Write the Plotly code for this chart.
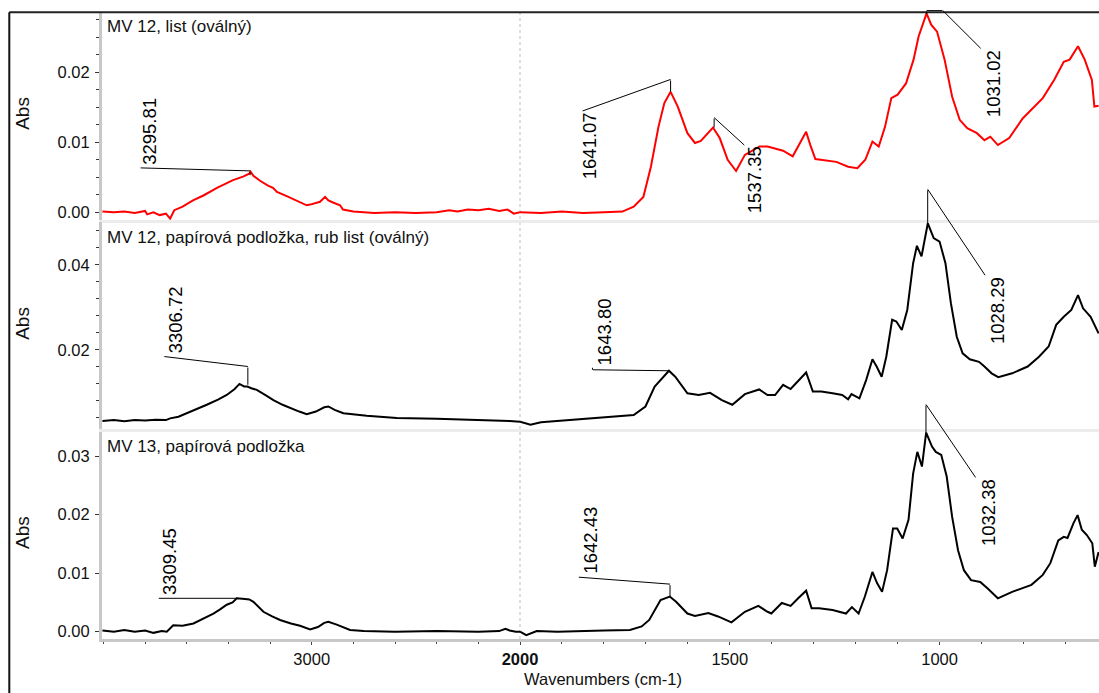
import numpy as np
import plotly.graph_objects as go

# ---------------- data ----------------
BREAK = 2000  # axis scale changes at 2000 cm-1

wn_1 = [4005, 3950, 3900, 3850, 3800, 3790, 3760, 3730, 3700, 3680, 3660, 3620, 3570, 3520, 3455, 3410,
        3378, 3330, 3300, 3294, 3280, 3248, 3210, 3186, 3167, 3120, 3090, 3050, 3024, 3008, 2960, 2936,
        2920, 2898, 2864, 2850, 2800, 2700, 2600, 2500, 2400, 2340, 2300, 2250, 2200, 2150, 2100, 2060,
        2030, 2000, 1950, 1900, 1850, 1800, 1756, 1729, 1706, 1688, 1670, 1656, 1641, 1624, 1601, 1583,
        1569, 1540, 1524, 1505, 1485, 1464, 1429, 1410, 1373, 1350, 1337, 1318, 1308, 1296, 1246, 1218,
        1196, 1177, 1160, 1145, 1130, 1115, 1100, 1080, 1062, 1050, 1031, 1020, 1006, 988, 970, 952,
        934, 911, 893, 879, 861, 834, 802, 754, 727, 704, 690, 670, 654, 637, 631, 621]
abs_1 = [0.0001, 0.0000, 0.0001, -0.0001, 0.0002, -0.0003, 0.0000, -0.0004, -0.0002, -0.0009, 0.0003,
         0.0008, 0.0017, 0.0024, 0.0035, 0.0042, 0.0046, 0.0051, 0.0055, 0.0058, 0.0052, 0.0045, 0.0038,
         0.0035, 0.0029, 0.0023, 0.0019, 0.0014, 0.0010, 0.0011, 0.0015, 0.0022, 0.0017, 0.0014, 0.0010,
         0.0004, 0.0001, -0.0001, 0.0000, -0.0001, 0.0000, 0.0003, 0.0001, 0.0004, 0.0003, 0.0005, 0.0002,
         0.0004, -0.0002, 0.0000, -0.0001, 0.0001, -0.0001, 0.0000, 0.0001, 0.0008, 0.0022, 0.0065, 0.0122,
         0.0156, 0.0172, 0.0151, 0.0113, 0.0099, 0.0102, 0.0121, 0.0106, 0.0075, 0.0059, 0.0082, 0.0094,
         0.0094, 0.0088, 0.0080, 0.0094, 0.0115, 0.0096, 0.0076, 0.0072, 0.0065, 0.0063, 0.0075, 0.0101,
         0.0094, 0.0122, 0.0163, 0.0168, 0.0184, 0.0218, 0.0251, 0.0284, 0.0268, 0.0258, 0.0218, 0.0165,
         0.0132, 0.0120, 0.0113, 0.0103, 0.0108, 0.0096, 0.0106, 0.0134, 0.0163, 0.0189, 0.0215, 0.0218,
         0.0237, 0.0218, 0.0189, 0.0151, 0.0152]

wn_2 = [4005, 3950, 3900, 3850, 3800, 3750, 3700, 3680, 3640, 3600, 3550, 3504, 3450, 3408, 3370, 3347,
        3325, 3309, 3290, 3264, 3220, 3184, 3140, 3104, 3060, 3024, 2980, 2940, 2920, 2890, 2848, 2736,
        2592, 2400, 2200, 2050, 2000, 1975, 1950, 1865, 1729, 1701, 1679, 1645, 1630, 1601, 1574, 1547,
        1519, 1494, 1464, 1430, 1410, 1392, 1373, 1355, 1337, 1318, 1302, 1282, 1255, 1232, 1218, 1210,
        1191, 1175, 1160, 1150, 1138, 1127, 1113, 1103, 1090, 1077, 1063, 1054, 1043, 1028, 1014, 1000,
        986, 973, 959, 945, 928, 906, 893, 876, 860, 827, 790, 763, 740, 722, 704, 686, 670, 658, 640, 621]
abs_2 = [0.0033, 0.0035, 0.0032, 0.0035, 0.0034, 0.0036, 0.0035, 0.0039, 0.0043, 0.0051, 0.0060, 0.0071,
         0.0083, 0.0094, 0.0108, 0.0120, 0.0114, 0.0114, 0.0110, 0.0106, 0.0093, 0.0082, 0.0071, 0.0063,
         0.0055, 0.0049, 0.0055, 0.0065, 0.0067, 0.0059, 0.0051, 0.0045, 0.0040, 0.0038, 0.0036, 0.0033,
         0.0031, 0.0024, 0.0030, 0.0037, 0.0047, 0.0067, 0.0114, 0.0151, 0.0137, 0.0098, 0.0094, 0.0099,
         0.0082, 0.0071, 0.0096, 0.0107, 0.0094, 0.0094, 0.0118, 0.0108, 0.0128, 0.0147, 0.0102, 0.0102,
         0.0098, 0.0094, 0.0084, 0.0096, 0.0086, 0.0129, 0.0178, 0.0161, 0.0137, 0.0184, 0.0271, 0.0267,
         0.0247, 0.0294, 0.0404, 0.0445, 0.0420, 0.0498, 0.0463, 0.0455, 0.0404, 0.0310, 0.0231, 0.0192,
         0.0178, 0.0172, 0.0161, 0.0145, 0.0136, 0.0145, 0.0161, 0.0184, 0.0208, 0.0259, 0.0278, 0.0294,
         0.0329, 0.0298, 0.0278, 0.0239]

wn_3 = [4005, 3950, 3900, 3850, 3800, 3760, 3720, 3696, 3665, 3620, 3568, 3520, 3472, 3440, 3408, 3380,
        3360, 3320, 3300, 3280, 3250, 3232, 3190, 3152, 3100, 3056, 3008, 2970, 2940, 2920, 2880, 2840,
        2816, 2750, 2600, 2400, 2200, 2100, 2070, 2050, 2020, 2000, 1985, 1960, 1911, 1800, 1738, 1710,
        1692, 1665, 1643, 1628, 1601, 1583, 1551, 1528, 1496, 1464, 1432, 1410, 1401, 1376, 1355, 1337,
        1318, 1305, 1287, 1255, 1223, 1209, 1193, 1178, 1160, 1149, 1137, 1125, 1111, 1101, 1088, 1074,
        1063, 1053, 1042, 1032, 1018, 1009, 996, 983, 970, 956, 942, 925, 903, 886, 861, 827, 781, 754,
        736, 717, 704, 695, 681, 671, 661, 649, 636, 630, 621]
abs_3 = [0.0002, 0.0000, 0.0003, 0.0000, 0.0002, -0.0002, 0.0001, 0.0000, 0.0011, 0.0010, 0.0014, 0.0022,
         0.0031, 0.0038, 0.0046, 0.0050, 0.0057, 0.0056, 0.0055, 0.0051, 0.0040, 0.0034, 0.0026, 0.0020,
         0.0014, 0.0010, 0.0004, 0.0008, 0.0015, 0.0017, 0.0012, 0.0006, 0.0003, 0.0001, 0.0000, 0.0001,
         0.0000, 0.0001, 0.0005, 0.0002, 0.0000, 0.0000, -0.0006, 0.0001, 0.0000, 0.0002, 0.0003, 0.0009,
         0.0020, 0.0054, 0.0060, 0.0051, 0.0031, 0.0027, 0.0032, 0.0026, 0.0016, 0.0034, 0.0044, 0.0034,
         0.0031, 0.0049, 0.0044, 0.0057, 0.0070, 0.0040, 0.0040, 0.0037, 0.0031, 0.0042, 0.0031, 0.0060,
         0.0102, 0.0083, 0.0068, 0.0105, 0.0176, 0.0176, 0.0159, 0.0191, 0.0270, 0.0307, 0.0282, 0.0340,
         0.0316, 0.0307, 0.0302, 0.0265, 0.0196, 0.0139, 0.0105, 0.0088, 0.0085, 0.0074, 0.0057, 0.0068,
         0.0080, 0.0097, 0.0117, 0.0156, 0.0162, 0.0160, 0.0185, 0.0199, 0.0174, 0.0165, 0.0151, 0.0111,
         0.0136]

panel_titles = ["MV 12, list (oválný)",
                "MV 12, papírová podložka, rub list (oválný)",
                "MV 13, papírová podložka"]
line_colors = ["#ff0000", "#000000", "#000000"]

peak_wn_1 = [3295.81, 1641.07, 1537.35, 1031.02]
peak_abs_1 = [0.0053, 0.0172, 0.0121, 0.0283]
peak_wn_2 = [3306.72, 1643.80, 1028.29]
peak_abs_2 = [0.0118, 0.0151, 0.0498]
peak_wn_3 = [3309.45, 1642.43, 1032.38]
peak_abs_3 = [0.0057, 0.0060, 0.0339]

x_left_range = [4007, BREAK]
x_right_range = [BREAK, 620]
x_left_ticks = [3000]
x_right_ticks = [2000, 1500, 1000]
x_right_ticktext = ["<b>2000</b>", "1500", "1000"]

y_ranges = [[-0.0011, 0.0286], [0.0014, 0.0501], [-0.00125, 0.03415]]
y_dticks = [0.01, 0.02, 0.01]
y_minor = [0.0025, 0.004, None]

# ---------------- layout geometry (page pixels; body margin removed below) ----------------
W, H = 1099, 693
PLOT_L, PLOT_R, PLOT_T, PLOT_B = 102, 1099, 12, 639
ML, MT, MR, MB = PLOT_L, PLOT_T, W - PLOT_R, H - PLOT_B
PW, PH = PLOT_R - PLOT_L, PLOT_B - PLOT_T
split_frac = 418 / PW
panel_px = [(12, 220), (222, 429), (431.7, 639)]   # top, bottom


def py(px):
    return (PLOT_B - px) / PH


def pxx(px):
    return (px - PLOT_L) / PW


FONT = "Liberation Sans, Arial, sans-serif"

# leader line vertices & text centre as pixel offsets (right, up) from each peak
label_geom = [
    [([(0, 0), (0, 4.3), (-110, 7.3)], (-100, 43.5)),
     ([(0, 0), (0, 12.4), (-88.5, -19.3)], (-81.5, -54.3)),
     ([(0, 0), (0, 10), (30.7, -18)], (40.7, -51.8)),
     ([(0, 0), (0, 3.5), (16.3, 3.5), (54.7, -34.8)], (67, -69.5))],
    [([(0, 0), (0, 18.3), (-84, 28.3)], (-72.3, 65)),
     ([(0, 0), (-77, 1), (-77, 4)], (-65.3, 38.5)),
     ([(0, 0), (0, 34), (57.9, -52.7)], (70.4, -87.7))],
    [([(-9, 0), (-89, 0)], (-78.2, 36.3)),
     ([(0, 0), (0, 12.4), (-91.7, 19.4)], (-79.2, 56.7)),
     ([(0, 0), (0, 28.7), (50.1, -45)], (62.6, -79.3))],
]

spectra = [(wn_1, abs_1), (wn_2, abs_2), (wn_3, abs_3)]
peaks = [(peak_wn_1, peak_abs_1), (peak_wn_2, peak_abs_2), (peak_wn_3, peak_abs_3)]

fig = go.Figure()
layout = dict(width=W, height=H, margin=dict(l=ML, r=MR, t=MT, b=MB, autoexpand=False),
              paper_bgcolor="white", plot_bgcolor="white", showlegend=False,
              font=dict(family=FONT, size=16.5, color="#111"))
annotations = []
shapes = []


def axname(kind, i):
    return kind + ("" if i == 1 else str(i))


for p in range(3):
    xl, xr, yi = 2 * p + 1, 2 * p + 2, p + 1
    top_px, bot_px = panel_px[p]
    ydom = [py(bot_px), min(1.0, py(top_px))]
    last = p == 2
    sep_color = "#c8c8c8" if last else "#ececec"
    common_x = dict(showgrid=False, zeroline=False, showline=True, linecolor=sep_color,
                    linewidth=3, anchor=axname("y", yi), fixedrange=True,
                    tickfont=dict(size=16.5, color="#111"), ticklabelstandoff=0)
    xa_left = dict(common_x, domain=[0, split_frac], range=x_left_range, tickmode="array",
                   tickvals=x_left_ticks if last else [], showticklabels=last,
                   ticks="outside" if last else "", ticklen=3, tickcolor="#444")
    xa_right = dict(common_x, domain=[split_frac, 1], range=x_right_range, tickmode="array",
                    tickvals=x_right_ticks if last else [], ticktext=x_right_ticktext,
                    showticklabels=last, ticks="outside" if last else "", ticklen=3,
                    tickcolor="#444")
    if last:
        xa_left["minor"] = dict(dtick=200, tick0=0, ticks="outside", ticklen=2, tickcolor="#444")
        xa_right["minor"] = dict(dtick=100, tick0=0, ticks="outside", ticklen=2, tickcolor="#444")
    layout[axname("xaxis", xl)] = xa_left
    layout[axname("xaxis", xr)] = xa_right

    yax = dict(domain=ydom, range=y_ranges[p], dtick=y_dticks[p], tick0=0, tickformat=".2f",
               showgrid=False, zeroline=False, showline=True, linecolor="#c8c8c8", linewidth=3,
               ticks="outside", ticklen=4, tickcolor="#333", anchor=axname("x", xl),
               tickfont=dict(size=16.5, color="#111"), ticklabelstandoff=2, fixedrange=True)
    if y_minor[p]:
        yax["minor"] = dict(dtick=y_minor[p], tick0=0, ticks="outside", ticklen=3, tickcolor="#333")
    layout[axname("yaxis", yi)] = yax

    # spectrum, split at the scale break
    wn = np.asarray(spectra[p][0], dtype=float)
    ab = np.asarray(spectra[p][1], dtype=float)
    hi = wn >= BREAK
    lo = wn <= BREAK
    for mask, xa in ((hi, xl), (lo, xr)):
        fig.add_trace(go.Scatter(x=wn[mask], y=ab[mask], mode="lines",
                                 line=dict(color=line_colors[p], width=2),
                                 xaxis=axname("x", xa), yaxis=axname("y", yi),
                                 hoverinfo="skip"))

    # panel title
    title_y = [26.5, 237, 446][p]
    annotations.append(dict(xref="paper", yref="paper", x=pxx(105), y=py(title_y),
                            xanchor="left", yanchor="middle", showarrow=False,
                            text=panel_titles[p], font=dict(size=17, color="#111")))
    # "Abs"
    abs_y = [113.3, 323.3, 532.5][p]
    annotations.append(dict(xref="paper", yref="paper", x=pxx(22.5), y=py(abs_y),
                            xanchor="center", yanchor="middle", showarrow=False, textangle=-90,
                            text="Abs", font=dict(size=19, color="#111")))

    # peak labels
    for k, (pw, pa) in enumerate(zip(*peaks[p])):
        xa = xl if pw > BREAK else xr
        xref, yref = axname("x", xa), axname("y", yi)
        verts, tc = label_geom[p][k]
        for v0, v1 in zip(verts[:-1], verts[1:]):
            annotations.append(dict(xref=xref, yref=yref, x=pw, y=pa,
                                    xshift=v0[0], yshift=v0[1],
                                    ax=v1[0] - v0[0], ay=-(v1[1] - v0[1]),
                                    axref="pixel", ayref="pixel", text=" ",
                                    font=dict(size=1), borderpad=0, showarrow=True,
                                    arrowhead=0, arrowwidth=1, arrowcolor="#000",
                                    standoff=0, startstandoff=0))
        annotations.append(dict(xref=xref, yref=yref, x=pw, y=pa, xshift=tc[0], yshift=tc[1],
                                xanchor="center", yanchor="middle", showarrow=False,
                                textangle=-90, text=f"{pw:.2f}",
                                font=dict(size=18.5, color="#000")))

# x-axis title
annotations.append(dict(xref="paper", yref="paper", x=pxx(603), y=py(679), xanchor="center",
                        yanchor="middle", showarrow=False, text="Wavenumbers (cm-1)",
                        font=dict(size=16.5, color="#111")))

# dotted line at the scale break
shapes.append(dict(type="line", xref="paper", yref="paper", x0=split_frac, x1=split_frac,
                   y0=0, y1=1, line=dict(color="#bdbdbd", width=1, dash="dot"), layer="below"))
# outer frame (top and left edges)
shapes.append(dict(type="line", xref="paper", yref="paper", x0=pxx(9.3), x1=1.05,
                   y0=py(12.3), y1=py(12.3), line=dict(color="#222", width=2)))
shapes.append(dict(type="line", xref="paper", yref="paper", x0=pxx(9.3), x1=pxx(9.3),
                   y0=py(12.3), y1=py(700), line=dict(color="#111", width=2)))

layout["annotations"] = annotations
layout["shapes"] = shapes
fig.update_layout(**layout)
fig.write_html("out.html",
               config={"displayModeBar": False, "staticPlot": True},
               post_script="document.body.style.margin='0';"
                           "document.body.style.overflow='hidden';"
                           "document.documentElement.style.overflow='hidden';")
